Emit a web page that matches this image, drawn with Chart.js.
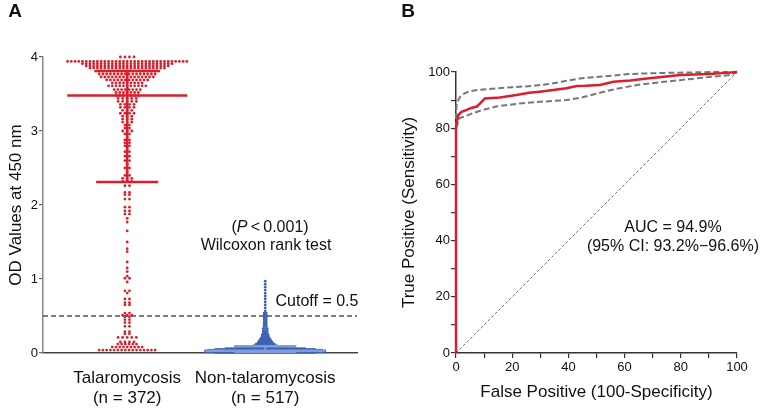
<!DOCTYPE html>
<html>
<head>
<meta charset="utf-8">
<script src="https://cdn.jsdelivr.net/npm/chart.js@4/dist/chart.umd.min.js"></script>
<style>
  html, body { margin: 0; padding: 0; background: #fff; }
  .wrap { display: flex; width: 760px; height: 410px; }
  canvas { display: block; }
</style>
</head>
<body>
<div class="wrap">
  <canvas id="chartA" width="380" height="410"></canvas>
  <canvas id="chartB" width="380" height="410"></canvas>
</div>
<script>
// ---- Panel A: OD values (rows of the dot plot, value + number of dots) ----
const groupLabels = [["Talaromycosis", "(n = 372)"], ["Non-talaromycosis", "(n = 517)"]];

const talaroValues = [4.00, 3.94, 3.91, 3.88, 3.85, 3.81, 3.77, 3.73, 3.69, 3.65, 3.61, 3.56, 3.52,
  3.48, 3.44, 3.40, 3.36, 3.32, 3.28, 3.24, 3.20, 3.16, 3.12, 3.08, 3.04, 3.00, 2.96, 2.92, 2.88,
  2.84, 2.80, 2.76, 2.72, 2.66, 2.60, 2.55, 2.50, 2.45, 2.40, 2.36, 2.32, 2.26, 2.17, 2.14, 2.08,
  1.97, 1.92, 1.88, 1.82, 1.77, 1.65, 1.50, 1.41, 1.37, 1.23, 1.15, 1.10, 1.04, 1.01, 0.96, 0.84,
  0.81, 0.73, 0.68, 0.65, 0.54, 0.51, 0.49, 0.45, 0.41, 0.36, 0.29, 0.26, 0.21, 0.15, 0.12, 0.08, 0.04];
const talaroCounts = [4, 33, 25, 23, 21, 18, 16, 15, 12, 9, 11, 8, 7,
  7, 5, 5, 4, 4, 3, 4, 3, 3, 3, 2, 2, 3, 2, 1, 2,
  2, 2, 1, 2, 2, 2, 1, 2, 1, 2, 3, 3, 2, 2, 2, 2,
  2, 2, 2, 1, 1, 1, 1, 1, 1, 1, 1, 1, 1, 2, 1, 2,
  1, 2, 2, 2, 2, 3, 2, 2, 2, 2, 2, 2, 5, 4, 6, 9, 16];

const nonValues = [0.97, 0.93, 0.89, 0.85, 0.81, 0.77, 0.73, 0.69, 0.65, 0.61, 0.57, 0.54, 0.51,
  0.48, 0.45, 0.42, 0.39, 0.36, 0.33, 0.30, 0.27, 0.245, 0.22, 0.20, 0.18, 0.16, 0.14, 0.12, 0.10,
  0.085, 0.07, 0.06, 0.05, 0.04, 0.03, 0.022, 0.015, 0.008];
const nonCounts = [1, 1, 1, 1, 1, 1, 1, 1, 1, 1, 1, 2, 2,
  2, 2, 2, 2, 2, 3, 3, 3, 4, 4, 5, 6, 7, 8, 10, 12,
  20, 30, 40, 50, 57, 60, 60, 60, 50];

// lower quartile, median, upper quartile
const talaroStats = [2.31, 3.48, 3.81];
const nonStats = [0.01, 0.03, 0.09];
const cutoff = 0.5;
const odTicks = [0, 1, 2, 3, 4];

// ---- Panel B: ROC curve with 95% CI ----
const rocFpr = [0, 0, 0, 0.8, 2, 3.8, 5.5, 7.4, 9.1, 10.3, 15.6, 21.5, 26, 29.8, 34, 39.3, 43, 46,
  51.2, 56, 62, 68, 74, 79.7, 85, 90, 95, 100];
const rocTpr = [0, 40, 80.5, 84.7, 85.8, 86.5, 87.2, 87.7, 89.4, 90.6, 90.9, 91.8, 92.6, 93.0, 93.5,
  94.2, 95.0, 95.1, 95.4, 96.5, 97.0, 97.7, 98.3, 98.9, 99.1, 99.3, 99.6, 100];
const upperFpr = [0, 0, 0.3, 1.5, 3, 5, 7.5, 14.5, 20, 27, 33, 38, 44, 51, 62, 75, 91.5, 100];
const upperTpr = [0, 85, 89, 91.2, 92.4, 93.2, 93.6, 94.2, 94.6, 95.0, 95.7, 96.6, 97.7, 98.3, 99.3,
  99.7, 100, 100];
const lowerFpr = [0, 0, 0, 1.2, 5.9, 9.5, 14.2, 22.5, 30, 39.3, 45, 51.2, 56, 64.5, 72, 79.7, 88, 97.5, 100];
const lowerTpr = [0, 40, 80, 83.5, 85.3, 86.5, 87.7, 88.8, 89.4, 90.0, 91.0, 92.6, 93.8, 95.4, 96.3,
  97.1, 98.0, 98.9, 100];
const rateTicks = [0, 20, 40, 60, 80, 100];

const FONT = '"Liberation Sans", Arial, Helvetica, sans-serif';
const RED = "#d91f2c";
const BLUE = "#3d63b1";
const BLUE_LIGHT = "#7f9dd9";

// spread each row of equal values sideways around the group centre
// (sparse rows are spread a little wider, as in the dot plot)
function swarm(center, values, counts, gap, sparseGap) {
  const pts = [];
  values.forEach((v, r) => {
    const n = counts[r];
    const g = n < 6 ? sparseGap : gap;
    for (let i = 0; i < n; i++) {
      pts.push({ x: center + (i - (n - 1) / 2) * g, y: v });
    }
  });
  return pts;
}

function hline(center, half, y) {
  return [{ x: center - half, y: y }, { x: center + half, y: y }];
}

function zip(xs, ys) {
  return xs.map((x, i) => ({ x: x, y: ys[i] }));
}

// text notes drawn with the chart
const notesPlugin = {
  id: "notes",
  afterDraw(chart, args, opts) {
    const ctx = chart.ctx;
    ctx.save();
    ctx.fillStyle = "#111";
    ctx.textBaseline = "middle";
    (opts.items || []).forEach((t) => {
      const x = t.px != null ? t.px : chart.scales.x.getPixelForValue(t.x);
      const y = t.py != null ? t.py : chart.scales.y.getPixelForValue(t.y);
      const parts = t.parts || [{ text: t.text }];
      let total = 0;
      parts.forEach((p) => {
        ctx.font = (p.italic ? "italic " : "") + (t.weight || "normal") + " " + t.size + "px " + FONT;
        p.w = ctx.measureText(p.text).width;
        total += p.w;
      });
      let cx = x - total / 2;
      ctx.textAlign = "left";
      parts.forEach((p) => {
        ctx.font = (p.italic ? "italic " : "") + (t.weight || "normal") + " " + t.size + "px " + FONT;
        ctx.fillText(p.text, cx, y);
        cx += p.w;
      });
    });
    ctx.restore();
  },
};

// ---------------- Chart A ----------------
const xMinA = 0.39, xMaxA = 2.665;
const wide = 0.435, narrow = 0.225;

new Chart(document.getElementById("chartA"), {
  type: "scatter",
  data: {
    datasets: [
      {
        data: [{ x: xMinA, y: cutoff }, { x: xMaxA, y: cutoff }],
        showLine: true, borderColor: "#555", borderWidth: 1.3, borderDash: [5, 3],
        pointRadius: 0, order: 0, clip: false,
      },
      { data: hline(1, wide, talaroStats[1]), showLine: true, borderColor: RED, borderWidth: 2.5, pointRadius: 0, order: 1 },
      { data: hline(1, narrow, talaroStats[0]), showLine: true, borderColor: RED, borderWidth: 2.5, pointRadius: 0, order: 1 },
      { data: hline(1, narrow, talaroStats[2]), showLine: true, borderColor: RED, borderWidth: 2.5, pointRadius: 0, order: 1 },
      { data: [{ x: 1, y: talaroStats[0] }, { x: 1, y: talaroStats[2] }], showLine: true, borderColor: RED, borderWidth: 2.5, pointRadius: 0, order: 1 },
      { data: hline(2, wide, nonStats[1]), showLine: true, borderColor: BLUE_LIGHT, borderWidth: 2.5, pointRadius: 0, order: 1 },
      { data: hline(2, narrow, nonStats[0]), showLine: true, borderColor: BLUE_LIGHT, borderWidth: 2, pointRadius: 0, order: 1 },
      { data: hline(2, narrow, nonStats[2]), showLine: true, borderColor: BLUE_LIGHT, borderWidth: 2.5, pointRadius: 0, order: 1 },
      { data: [{ x: 2, y: nonStats[0] }, { x: 2, y: nonStats[2] }], showLine: true, borderColor: BLUE_LIGHT, borderWidth: 2, pointRadius: 0, order: 1 },
      {
        data: swarm(1, talaroValues, talaroCounts, 0.027, 0.033),
        pointRadius: 1.4, pointBackgroundColor: RED, pointBorderWidth: 0, order: 2, clip: false,
      },
      {
        data: swarm(2, nonValues, nonCounts, 0.0146, 0.0146),
        pointRadius: 1.4, pointBackgroundColor: BLUE, pointBorderWidth: 0, order: 2, clip: false,
      },
    ],
  },
  options: {
    responsive: false,
    animation: false,
    events: [],
    layout: { padding: { top: 57, right: 23, left: 0, bottom: 0 } },
    plugins: {
      legend: { display: false },
      tooltip: { enabled: false },
      notes: {
        items: [
          { px: 15, py: 12, text: "A", size: 19, weight: "bold" },
          {
            x: 2.035, y: 1.69, size: 16,
            parts: [{ text: "(" }, { text: "P", italic: true }, { text: "\u2009<\u20090.001)" }],
          },
          { x: 2.006, y: 1.446, size: 16, text: "Wilcoxon rank test" },
          { x: 2.375, y: 0.69, size: 16, text: "Cutoff = 0.5" },
        ],
      },
    },
    scales: {
      x: {
        type: "linear", min: xMinA, max: xMaxA,
        afterBuildTicks: (s) => { s.ticks = [{ value: 1 }, { value: 2 }]; },
        ticks: {
          callback: (v) => groupLabels[Math.round(v) - 1],
          padding: 7, color: "#111", font: { family: FONT, size: 17 }, maxRotation: 0,
        },
        grid: { display: false },
        border: { display: true, color: "#444", width: 1.5 },
        afterFit: (s) => { s.height = 57; },
      },
      y: {
        min: 0, max: 4,
        afterBuildTicks: (s) => { s.ticks = odTicks.map((v) => ({ value: v })); },
        ticks: { padding: 1, color: "#111", font: { family: FONT, size: 13 } },
        grid: { drawOnChartArea: false, drawTicks: true, tickLength: 4, color: "#666", lineWidth: 1.2 },
        border: { display: true, color: "#888", width: 1.5 },
        title: {
          display: true, text: "OD Values at 450 nm", color: "#111",
          font: { family: FONT, size: 17 }, padding: { top: 6, bottom: 0 },
        },
        afterFit: (s) => { s.width = 43; },
      },
    },
  },
  plugins: [notesPlugin],
});

// ---------------- Chart B ----------------
new Chart(document.getElementById("chartB"), {
  type: "scatter",
  data: {
    datasets: [
      {
        data: zip(rocFpr, rocTpr), showLine: true, borderColor: RED, borderWidth: 2.5,
        pointRadius: 0, order: 0, clip: false,
      },
      {
        data: zip(upperFpr, upperTpr), showLine: true, borderColor: "#777", borderWidth: 2,
        borderDash: [6, 3], pointRadius: 0, order: 1, clip: false,
      },
      {
        data: zip(lowerFpr, lowerTpr), showLine: true, borderColor: "#777", borderWidth: 2,
        borderDash: [6, 3], pointRadius: 0, order: 1, clip: false,
      },
      {
        data: [{ x: 0, y: 0 }, { x: 100, y: 100 }], showLine: true, borderColor: "#666",
        borderWidth: 0.9, borderDash: [3, 2], pointRadius: 0, order: 2,
      },
    ],
  },
  options: {
    responsive: false,
    animation: false,
    events: [],
    layout: { padding: { top: 72, right: 23, left: 0, bottom: 0 } },
    plugins: {
      legend: { display: false },
      tooltip: { enabled: false },
      notes: {
        items: [
          { px: 28, py: 12, text: "B", size: 19, weight: "bold" },
          { x: 77.2, y: 44.5, size: 16, text: "AUC = 94.9%" },
          { x: 77.2, y: 37.7, size: 16, text: "(95% CI: 93.2%\u221296.6%)" },
        ],
      },
    },
    scales: {
      x: {
        type: "linear", min: 0, max: 100,
        ticks: {
          stepSize: 10, padding: 2, color: "#111", font: { family: FONT, size: 13 }, maxRotation: 0,
          callback: (v) => (rateTicks.includes(v) ? String(v) : ""),
        },
        grid: { drawOnChartArea: false, drawTicks: true, tickLength: 5, color: "#333", lineWidth: 1.2 },
        border: { display: true, color: "#333", width: 1.5 },
        title: {
          display: true, text: "False Positive (100-Specificity)", color: "#111",
          font: { family: FONT, size: 17 }, padding: { top: 0, bottom: 7 },
        },
        afterFit: (s) => { s.height = 57; },
      },
      y: {
        min: 0, max: 100,
        ticks: {
          stepSize: 10, padding: 1, color: "#111", font: { family: FONT, size: 13 },
          callback: (v) => (rateTicks.includes(v) ? String(v) : ""),
        },
        grid: { drawOnChartArea: false, drawTicks: true, tickLength: 5, color: "#333", lineWidth: 1.2 },
        border: { display: true, color: "#333", width: 1.5 },
        title: {
          display: true, text: "True Positive (Sensitivity)", color: "#111",
          font: { family: FONT, size: 17 }, padding: { top: 19, bottom: 0 },
        },
        afterFit: (s) => { s.width = 76; },
      },
    },
  },
  plugins: [notesPlugin],
});
</script>
</body>
</html>
